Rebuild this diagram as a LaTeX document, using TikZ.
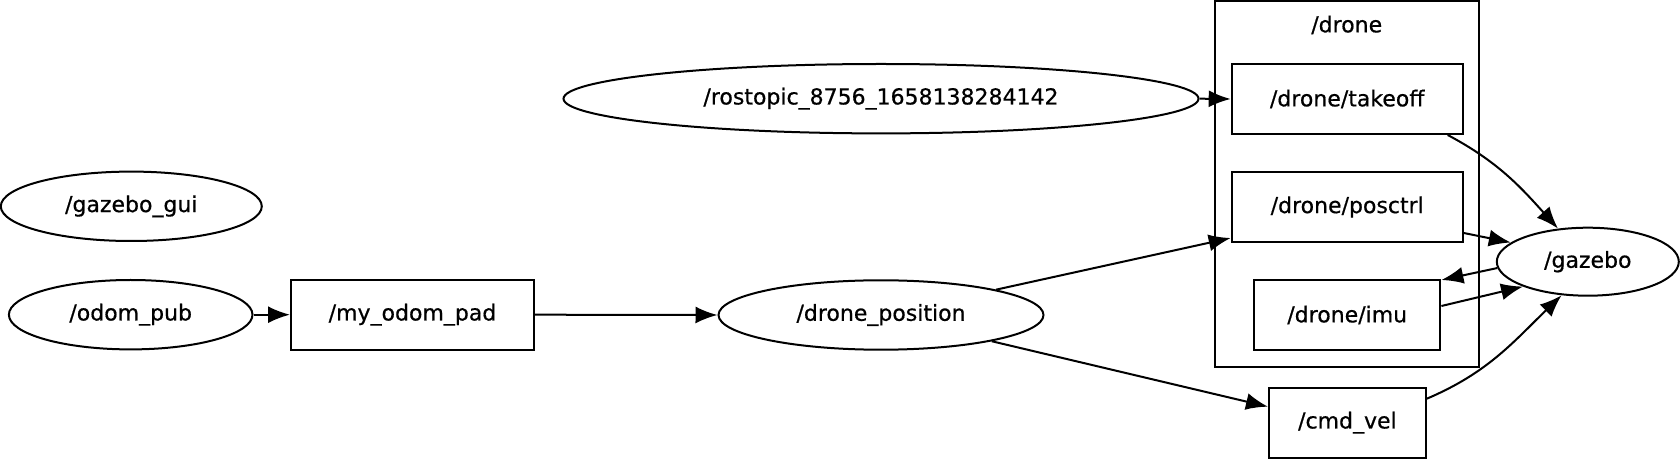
\documentclass[tikz,border=0pt]{standalone}
\usepackage{fontspec}
\setmainfont{DejaVu Sans}
\newfontfamily\graphfont[FakeBold=0.6]{DejaVu Sans}
\usetikzlibrary{shapes.geometric, arrows.meta, positioning, calc}

\begin{document}
\begin{tikzpicture}[x=0.5pt, y=-0.5pt, font=\graphfont\fontsize{11}{13}\selectfont, line width=1pt,
  rosnode/.style={draw, ellipse, inner sep=0pt, minimum height=34.7pt},
  topic/.style={draw, rectangle, inner sep=0pt, minimum height=35pt},
  flow/.style={-{Latex[length=11pt,width=8.5pt]}}]
\useasboundingbox (0,0) rectangle (1680,459);
% cluster /drone
\node[draw, inner sep=0pt, minimum width=132pt, minimum height=182.85pt] (drone) at (1347.3,183.85) {};
\node (dronelbl) at (1346.7,25) {/drone};
% ros nodes
\node[rosnode, minimum width=130.5pt] (gazebogui) at (131.3,206.3) {/gazebo\_gui};
\node[rosnode, minimum width=121.8pt] (odompub) at (130.7,314.7) {/odom\_pub};
\node[rosnode, minimum width=162.5pt] (dronepos) at (881,315) {/drone\_position};
\node[rosnode, minimum width=317.5pt] (rostopic) at (881,98.7) {/rostopic\_8756\_1658138284142};
\node[rosnode, minimum width=91pt, minimum height=34pt] (gazebo) at (1587.8,261.7) {/gazebo};
% topics
\node[topic, minimum width=121.5pt] (myodompad) at (412.5,314.7) {/my\_odom\_pad};
\node[topic, minimum width=115.5pt] (takeoff) at (1347.2,99) {/drone/takeoff};
\node[topic, minimum width=115.5pt] (posctrl) at (1347.2,207) {/drone/posctrl};
\node[topic, minimum width=93.2pt] (imu) at (1347.2,315) {/drone/imu};
\node[topic, minimum width=78.4pt] (cmdvel) at (1347.4,422.7) {/cmd\_vel};
% connections
\draw[flow] (odompub.east) -- (myodompad.west);
\draw[flow] (myodompad.east) -- (dronepos.west);
\draw[flow] (rostopic.east) -- (takeoff.west);
\draw[flow] (dronepos) -- ($(posctrl.south west)+(0,-5)$);
\draw[flow] (dronepos) -- ($(cmdvel.west)+(0,-16)$);
\draw[flow] ($(takeoff.south east)+(-16,0)$) to[out=-28, in=132] (gazebo.132);
\draw[flow] ($(posctrl.east)+(0,26)$) -- (gazebo.166);
\draw[flow] (gazebo.-176) -- ($(imu.north east)+(0,1)$);
\draw[flow] ($(imu.east)+(0,-9)$) -- (gazebo.-159);
\draw[flow] ($(cmdvel.north east)+(0,12)$) to[out=23, in=-136] (gazebo.-128);
\end{tikzpicture}
\end{document}
